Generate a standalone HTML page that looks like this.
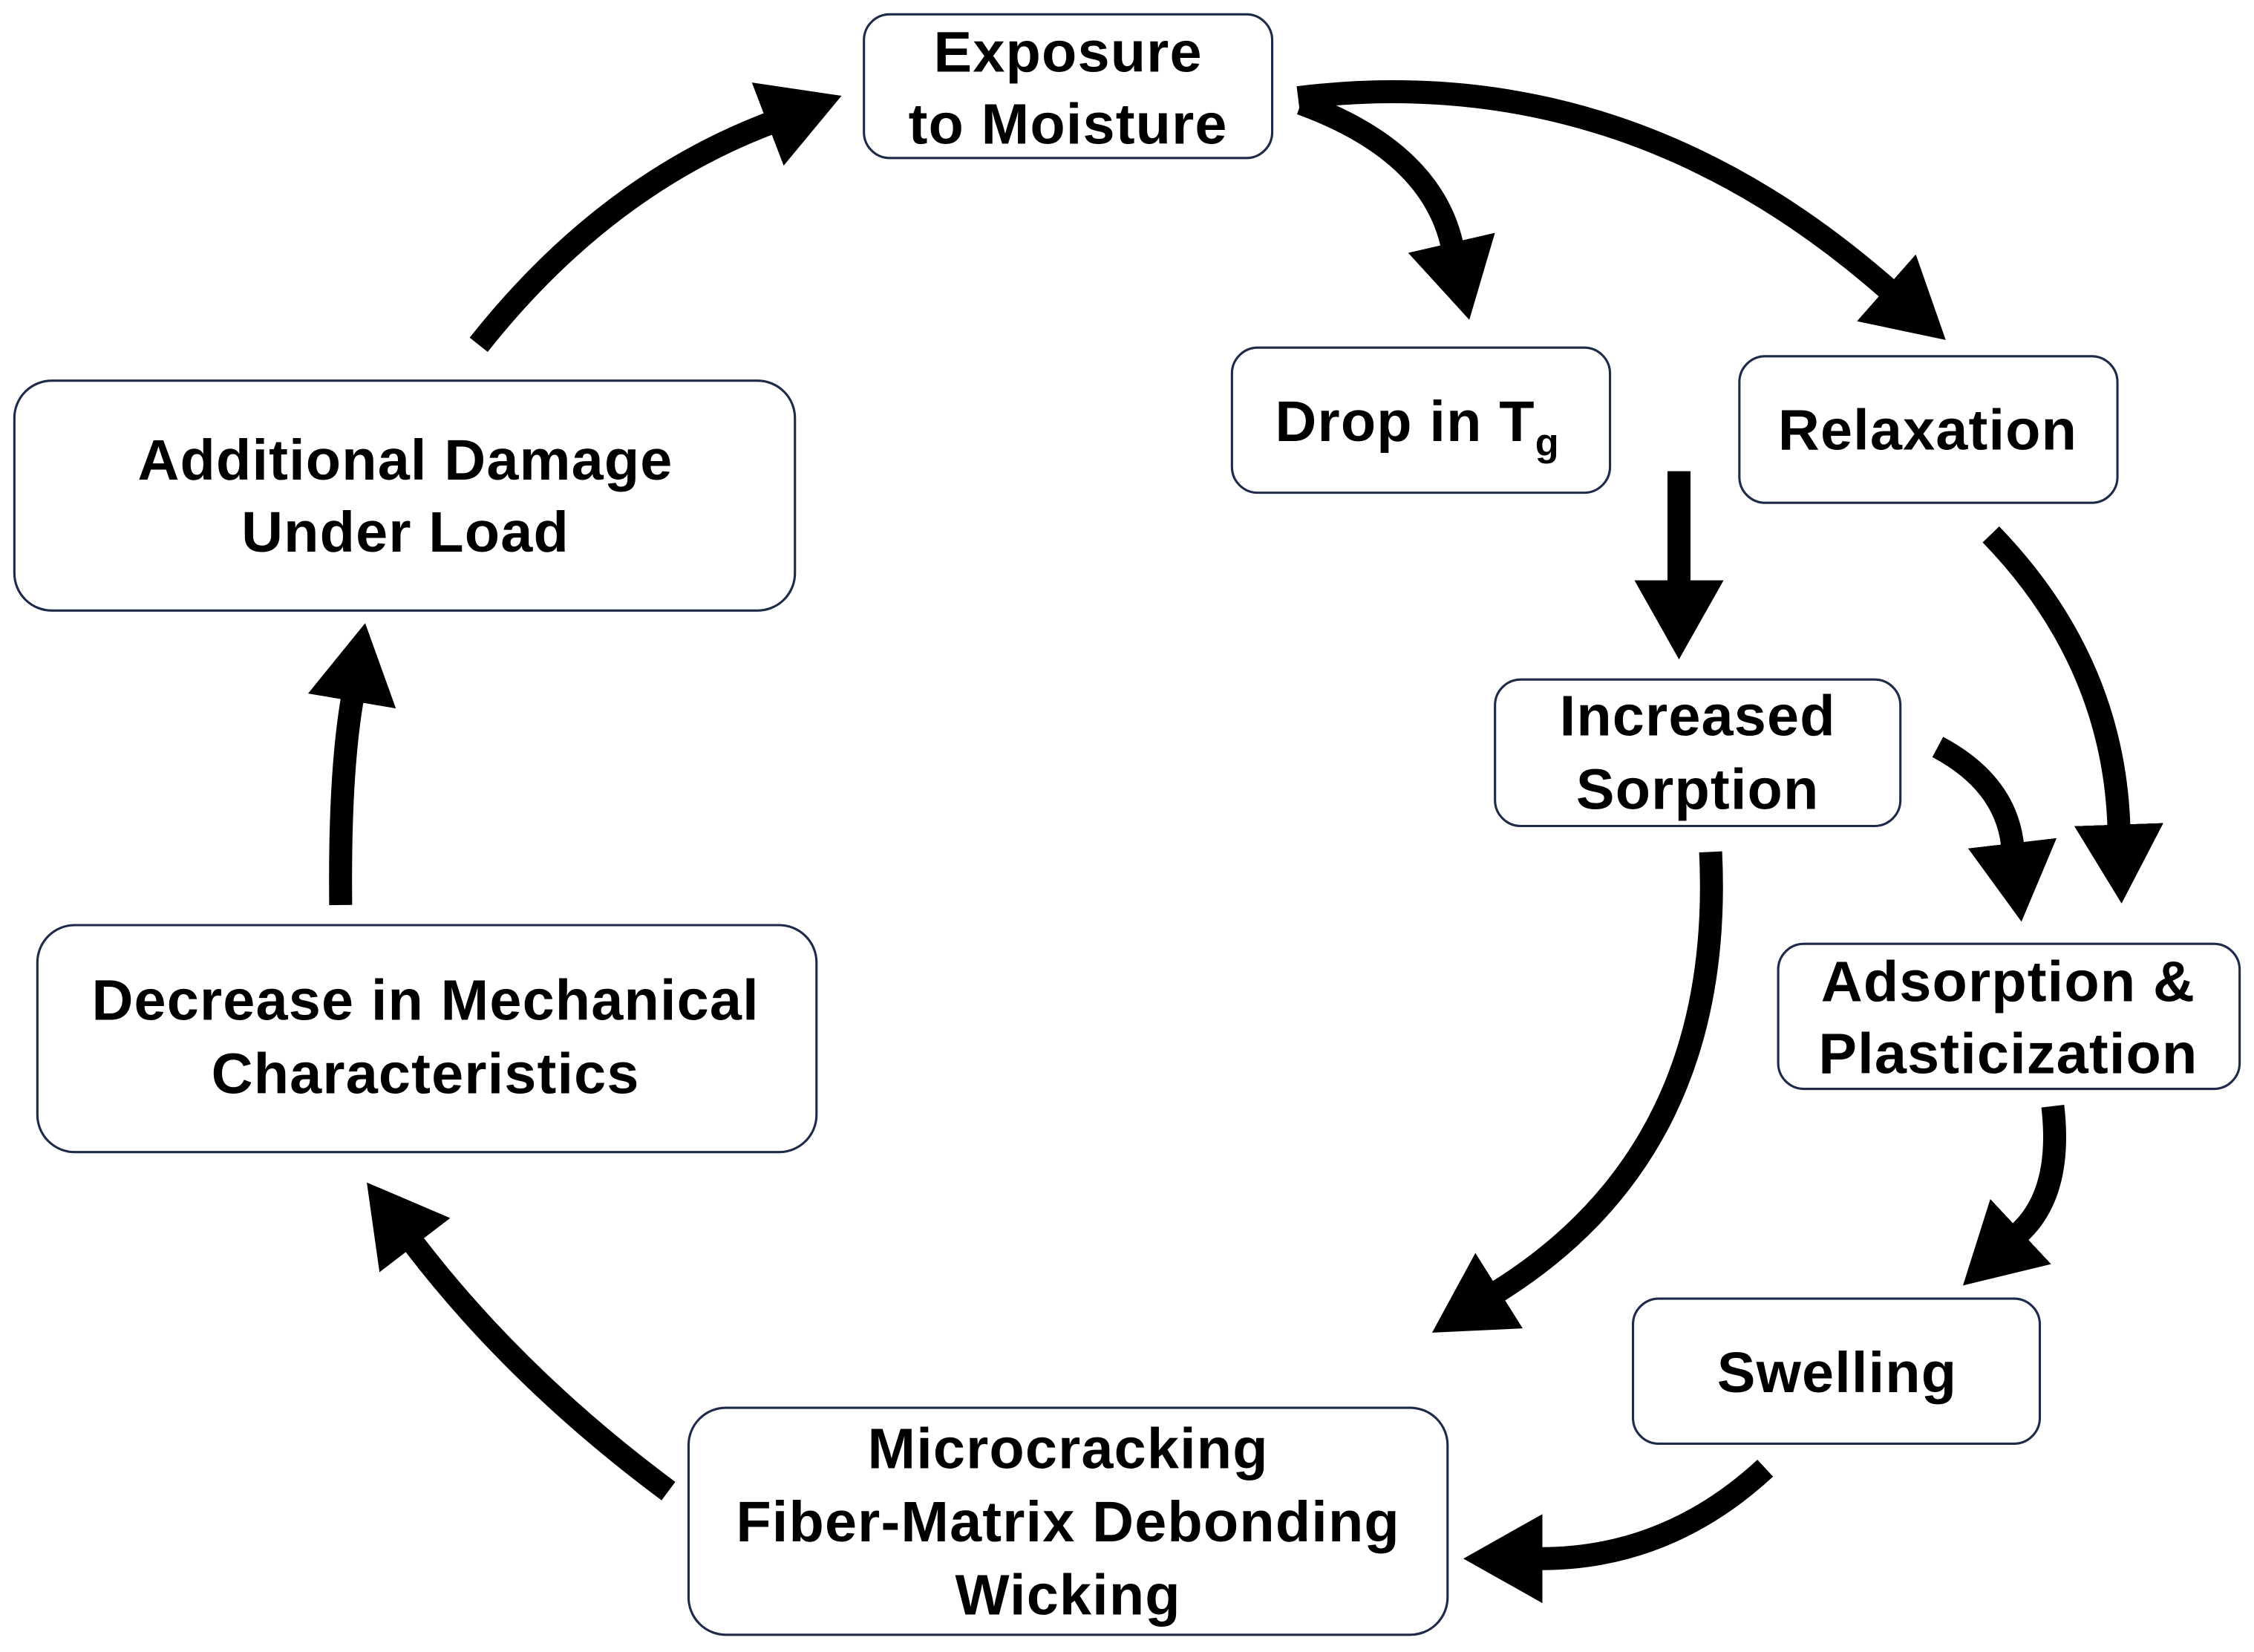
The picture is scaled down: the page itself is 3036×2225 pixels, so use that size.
<!DOCTYPE html>
<html><head><meta charset="utf-8"><style>
html,body{margin:0;padding:0;background:#fff;}
svg{display:block;}
text{font-family:"Liberation Sans",Arial,sans-serif;font-weight:bold;font-size:40px;letter-spacing:0.6px;fill:#000;text-anchor:middle;}
rect{fill:#fff;stroke:#1f2a4a;stroke-width:1.6;}
path.a{fill:none;stroke:#000;stroke-width:16;marker-end:url(#h);}
</style></head><body>
<svg width="3036" height="2225" viewBox="0 0 1568 1150" preserveAspectRatio="none" xmlns="http://www.w3.org/2000/svg">
<defs><marker id="h" viewBox="0 0 55 62" markerWidth="55" markerHeight="62" markerUnits="userSpaceOnUse" refX="1" refY="31" orient="auto"><path d="M0,0 L55,31 L0,62 z" fill="#000"/></marker></defs>

<rect x="601" y="10" width="284" height="100" rx="18"/>
<text x="743" y="50">Exposure</text><text x="743" y="100">to Moisture</text>

<rect x="857" y="242" width="263" height="101" rx="18"/>
<text x="986" y="307">Drop in T<tspan font-size="27" dy="10">g</tspan></text>

<rect x="1210" y="248" width="263" height="102" rx="18"/>
<text x="1341" y="313">Relaxation</text>

<rect x="10" y="265" width="543" height="160" rx="26"/>
<text x="282" y="334">Additional Damage</text><text x="282" y="384">Under Load</text>

<rect x="1040" y="473" width="282" height="102" rx="18"/>
<text x="1181" y="512">Increased</text><text x="1181" y="563">Sorption</text>

<rect x="1237" y="657" width="321" height="101" rx="18"/>
<text x="1397" y="697">Adsorption &amp;</text><text x="1397" y="747">Plasticization</text>

<rect x="26" y="644" width="542" height="158" rx="26"/>
<text x="296" y="710">Decrease  in Mechanical</text><text x="296" y="761">Characteristics</text>

<rect x="1136" y="904" width="283" height="101" rx="18"/>
<text x="1278" y="969">Swelling</text>

<rect x="479" y="980" width="528" height="158" rx="26"/>
<text x="743" y="1022">Microcracking</text><text x="743" y="1073">Fiber-Matrix Debonding</text><text x="743" y="1124">Wicking</text>

<path class="a" d="M333,240 Q420,130 535,86"/>
<path class="a" d="M903,68 Q1130,40 1313,201"/>
<path class="a" d="M905,72 Q995,105 1010,170"/>
<path class="a" d="M1168,328 L1168,405"/>
<path class="a" d="M1385,372 Q1470,460 1474,575"/>
<path class="a" d="M1348,520 Q1395,545 1400,588"/>
<path class="a" d="M1190,593 Q1200,800 1042,899"/>
<path class="a" d="M1428,770 Q1435,830 1405,858"/>
<path class="a" d="M1228,1022 Q1160,1085 1072,1085"/>
<path class="a" d="M465,1038 Q360,960 288,866"/>
<path class="a" d="M237,630 Q236,540 245,487"/>
</svg>
</body></html>
